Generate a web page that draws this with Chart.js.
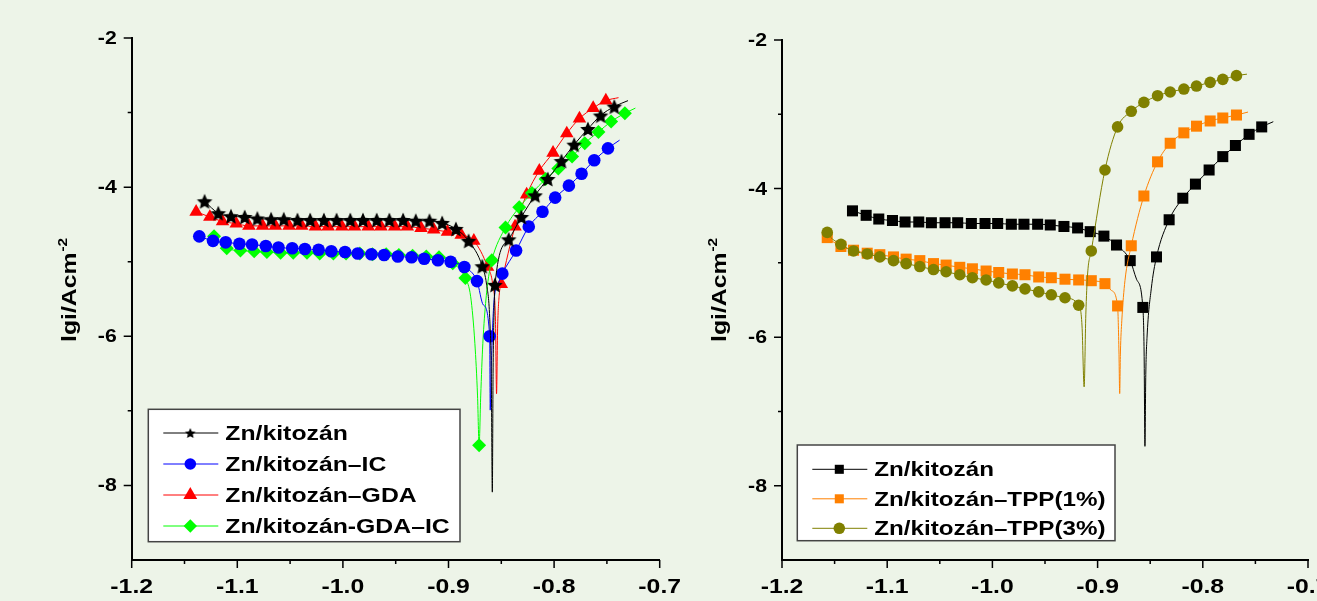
<!DOCTYPE html>
<html>
<head>
<meta charset="utf-8">
<title>Zn/kitozán polarizációs görbék</title>
<script src="https://cdn.jsdelivr.net/npm/chart.js@4.4.1/dist/chart.umd.min.js"></script>
<style>
  html, body { margin: 0; padding: 0; }
  body { width: 1317px; height: 601px; overflow: hidden; background: #edf4e8; position: relative; }
  canvas { position: absolute; top: 0; }
  #leftChart { left: 0; }
  #rightChart { left: 660px; }
</style>
</head>
<body>
<canvas id="leftChart" width="700" height="601"></canvas>
<canvas id="rightChart" width="700" height="601"></canvas>
<script>
// ---- axes ----
const xTickValues = [-1.2, -1.1, -1.0, -0.9, -0.8, -0.7];
const xTickLabels = ['-1.2', '-1.1', '-1.0', '-0.9', '-0.8', '-0.7'];
const xMinorValues = [-1.15, -1.05, -0.95, -0.85, -0.75];
const yTickValues = [-2, -4, -6, -8];
const yTickLabels = ['-2', '-4', '-6', '-8'];
const yMinorValues = [-3, -5, -7];
const yTitle = 'lgi/Acm';
const yTitleSup = '-2';

// ---- left chart: marked points (E / V, lg i) + unmarked trace points ----
const kitozanX = [-1.131,-1.118,-1.106,-1.093,-1.081,-1.068,-1.056,-1.043,-1.031,-1.018,-1.006,-0.993,-0.981,-0.968,-0.956,-0.943,-0.931,-0.918,-0.906,-0.893,-0.881,-0.868,-0.856,-0.843,-0.831,-0.818,-0.806,-0.793,-0.781,-0.768,-0.756,-0.743];
const kitozanY = [-4.19,-4.35,-4.39,-4.40,-4.42,-4.43,-4.43,-4.44,-4.44,-4.44,-4.44,-4.44,-4.44,-4.44,-4.44,-4.44,-4.45,-4.45,-4.48,-4.56,-4.72,-5.06,-5.31,-4.70,-4.40,-4.11,-3.89,-3.65,-3.43,-3.22,-3.04,-2.92];
const kitozanTrace = [[-0.864,-5.30],[-0.861,-5.75],[-0.8595,-6.5],[-0.8585,-8.09],[-0.8578,-6.5],[-0.857,-5.75],[-0.730,-2.84]];

const icX = [-1.136,-1.123,-1.111,-1.098,-1.086,-1.073,-1.061,-1.048,-1.036,-1.023,-1.011,-0.998,-0.986,-0.973,-0.961,-0.948,-0.935,-0.923,-0.910,-0.898,-0.885,-0.873,-0.861,-0.849,-0.836,-0.824,-0.811,-0.799,-0.786,-0.774,-0.762,-0.749];
const icY = [-4.66,-4.72,-4.74,-4.76,-4.77,-4.79,-4.81,-4.82,-4.83,-4.84,-4.86,-4.87,-4.89,-4.90,-4.91,-4.93,-4.94,-4.96,-4.98,-5.00,-5.07,-5.26,-6.00,-5.16,-4.85,-4.53,-4.33,-4.14,-3.98,-3.82,-3.64,-3.48];
const icTrace = [[-0.867,-5.58],[-0.8605,-6.99],[-0.8595,-6.4],[-0.857,-5.55],[-0.853,-5.30],[-0.738,-3.37]];

const gdaX = [-1.139,-1.126,-1.114,-1.101,-1.089,-1.076,-1.064,-1.051,-1.039,-1.026,-1.014,-1.001,-0.989,-0.976,-0.964,-0.951,-0.939,-0.926,-0.914,-0.901,-0.888,-0.876,-0.863,-0.850,-0.837,-0.826,-0.814,-0.801,-0.788,-0.776,-0.763,-0.751];
const gdaY = [-4.33,-4.40,-4.46,-4.49,-4.52,-4.52,-4.52,-4.52,-4.52,-4.53,-4.53,-4.53,-4.53,-4.53,-4.53,-4.53,-4.53,-4.55,-4.57,-4.60,-4.64,-4.72,-5.07,-5.30,-4.53,-4.10,-3.78,-3.54,-3.28,-3.08,-2.94,-2.84];
const gdaTrace = [[-0.858,-5.32],[-0.8555,-5.8],[-0.8545,-6.77],[-0.8535,-5.9],[-0.852,-5.45],[-0.739,-2.80]];

const gdaIcX = [-1.122,-1.110,-1.097,-1.084,-1.072,-1.059,-1.047,-1.034,-1.022,-1.009,-0.997,-0.984,-0.972,-0.959,-0.947,-0.934,-0.921,-0.909,-0.896,-0.884,-0.871,-0.859,-0.846,-0.833,-0.821,-0.808,-0.796,-0.783,-0.771,-0.758,-0.746,-0.733];
const gdaIcY = [-4.66,-4.82,-4.85,-4.86,-4.87,-4.88,-4.88,-4.88,-4.89,-4.89,-4.89,-4.89,-4.90,-4.90,-4.91,-4.92,-4.93,-4.94,-5.02,-5.22,-7.46,-4.98,-4.54,-4.27,-4.08,-3.89,-3.75,-3.59,-3.41,-3.26,-3.12,-3.01];
const gdaIcTrace = [[-0.879,-5.47],[-0.875,-6.1],[-0.8725,-6.8],[-0.8695,-6.8],[-0.8675,-6.1],[-0.8645,-5.5],[-0.862,-5.2],[-0.723,-2.94]];

// ---- right chart ----
const rKitozanX = [-1.133,-1.120,-1.108,-1.095,-1.083,-1.070,-1.058,-1.045,-1.033,-1.020,-1.007,-0.995,-0.982,-0.970,-0.957,-0.945,-0.932,-0.919,-0.907,-0.894,-0.882,-0.869,-0.857,-0.844,-0.832,-0.819,-0.807,-0.794,-0.781,-0.769,-0.756,-0.744];
const rKitozanY = [-4.30,-4.36,-4.41,-4.43,-4.45,-4.45,-4.46,-4.46,-4.46,-4.47,-4.47,-4.47,-4.48,-4.48,-4.48,-4.49,-4.51,-4.53,-4.58,-4.64,-4.76,-4.97,-5.60,-4.92,-4.42,-4.13,-3.94,-3.75,-3.57,-3.42,-3.27,-3.17];
const rKitozanTrace = [[-0.863,-5.22],[-0.8558,-6.2],[-0.855,-7.47],[-0.8542,-6.5],[-0.853,-6.0],[-0.849,-5.35],[-0.733,-3.10]];

const tppX = [-1.157,-1.144,-1.132,-1.119,-1.107,-1.094,-1.082,-1.069,-1.056,-1.044,-1.031,-1.019,-1.006,-0.994,-0.981,-0.969,-0.956,-0.944,-0.931,-0.918,-0.906,-0.893,-0.881,-0.868,-0.856,-0.843,-0.831,-0.818,-0.806,-0.793,-0.781,-0.768];
const tpp1Y = [-4.66,-4.78,-4.83,-4.87,-4.89,-4.92,-4.95,-4.97,-5.01,-5.03,-5.06,-5.08,-5.11,-5.13,-5.15,-5.16,-5.19,-5.20,-5.22,-5.23,-5.24,-5.28,-5.58,-4.77,-4.10,-3.64,-3.39,-3.25,-3.16,-3.09,-3.05,-3.01];
const tpp1Trace = [[-0.887,-5.37],[-0.8797,-6.2],[-0.879,-6.76],[-0.8783,-6.2],[-0.877,-5.78],[-0.874,-5.24],[-0.757,-2.97]];
const tpp3Y = [-4.59,-4.75,-4.84,-4.88,-4.92,-4.97,-5.01,-5.05,-5.09,-5.12,-5.16,-5.20,-5.23,-5.27,-5.31,-5.35,-5.39,-5.43,-5.47,-5.57,-4.84,-3.75,-3.17,-2.96,-2.84,-2.75,-2.70,-2.66,-2.62,-2.57,-2.53,-2.48];
const tpp3Trace = [[-1.158,-4.55],[-0.9148,-5.85],[-0.9128,-6.67],[-0.9112,-5.7],[-0.9095,-5.15],[-0.758,-2.46]];

const FONT = '"Liberation Sans", Arial, sans-serif';
const SX = 1.18; // the original's lettering is wider than Arial

// draw text stretched along its own direction
function wideText(ctx, txt, x, y, align) {
    const w = ctx.measureText(txt).width * SX;
    let x0 = x;
    if (align === 'center') x0 = x - w / 2;
    else if (align === 'right') x0 = x - w;
    ctx.save();
    ctx.translate(x0, y);
    ctx.scale(SX, 1);
    ctx.textAlign = 'left';
    ctx.textBaseline = 'alphabetic';
    ctx.fillText(txt, 0, 0);
    ctx.restore();
    return w;
}

// filled five-point star used as a marker
function starImage(size, R, color) {
    const c = document.createElement('canvas');
    c.width = c.height = size;
    const g = c.getContext('2d');
    const cx = size / 2, cy = size / 2 + R * 0.1, r = R * 0.47;
    g.beginPath();
    for (let k = 0; k < 10; k++) {
        const ang = -Math.PI / 2 + k * Math.PI / 5;
        const rad = k % 2 ? r : R;
        g.lineTo(cx + rad * Math.cos(ang), cy + rad * Math.sin(ang));
    }
    g.closePath();
    g.fillStyle = color;
    g.fill();
    return c;
}

function buildPoints(xs, ys, trace) {
    const pts = xs.map((x, i) => ({ x: x, y: ys[i], m: 1 }));
    trace.forEach(p => pts.push({ x: p[0], y: p[1], m: 0 }));
    return pts.sort((a, b) => a.x - b.x);
}

function series(label, color, xs, ys, trace, style, radius, order) {
    return {
        label: label,
        order: order,
        data: buildPoints(xs, ys, trace),
        borderColor: color,
        backgroundColor: color,
        borderWidth: 1,
        pointStyle: style,
        pointRadius: c => (c.raw && c.raw.m ? radius : 0),
        pointHoverRadius: 0,
        pointBorderWidth: 0,
        cubicInterpolationMode: 'monotone'
    };
}

// ticks, tick labels and the rotated axis title
const axisDeco = {
    id: 'axisDeco',
    afterDraw(chart) {
        const ctx = chart.ctx;
        const xs = chart.scales.x, ys = chart.scales.y, a = chart.chartArea;
        ctx.save();
        ctx.strokeStyle = '#000';
        ctx.lineWidth = 1.5;
        ctx.beginPath();
        xTickValues.forEach(v => { const p = xs.getPixelForValue(v); ctx.moveTo(p, a.bottom); ctx.lineTo(p, a.bottom + 8); });
        xMinorValues.forEach(v => { const p = xs.getPixelForValue(v); ctx.moveTo(p, a.bottom); ctx.lineTo(p, a.bottom + 4); });
        yTickValues.forEach(v => { const p = ys.getPixelForValue(v); ctx.moveTo(a.left - 8, p); ctx.lineTo(a.left, p); });
        yMinorValues.forEach(v => { const p = ys.getPixelForValue(v); ctx.moveTo(a.left - 4, p); ctx.lineTo(a.left, p); });
        ctx.stroke();

        ctx.fillStyle = '#000';
        ctx.font = 'bold 21px ' + FONT;
        xTickValues.forEach((v, i) => wideText(ctx, xTickLabels[i], xs.getPixelForValue(v), a.bottom + 33, 'center'));
        ctx.font = 'bold 18px ' + FONT;
        yTickValues.forEach((v, i) => wideText(ctx, yTickLabels[i], a.left - 15, ys.getPixelForValue(v) + 6, 'right'));

        ctx.translate(a.left - 56, 342);
        ctx.rotate(-Math.PI / 2);
        ctx.font = 'bold 21px ' + FONT;
        const w = wideText(ctx, yTitle, 0, 0, 'left');
        ctx.font = 'bold 13px ' + FONT;
        wideText(ctx, yTitleSup, w + 1, -9, 'left');
        ctx.restore();
    }
};

// boxed legend inside the plot
const legendBox = {
    id: 'legendBox',
    afterDatasetsDraw(chart, args, o) {
        const ctx = chart.ctx;
        ctx.save();
        ctx.fillStyle = '#fff';
        ctx.fillRect(o.x, o.y, o.w, o.h);
        ctx.strokeStyle = '#444';
        ctx.lineWidth = 1.5;
        ctx.strokeRect(o.x, o.y, o.w, o.h);
        ctx.font = 'bold ' + o.font + 'px ' + FONT;
        chart.data.datasets.forEach((ds, i) => {
            const cy = o.y + o.first + i * o.step;
            ctx.strokeStyle = ds.borderColor;
            ctx.lineWidth = 1;
            ctx.beginPath();
            ctx.moveTo(o.x + 15, cy);
            ctx.lineTo(o.x + 70, cy);
            ctx.stroke();
            ctx.fillStyle = ds.backgroundColor;
            Chart.helpers.drawPoint(ctx, { pointStyle: o.markers[i][0], radius: o.markers[i][1], rotation: 0, borderWidth: 0 }, o.x + 42, cy);
            ctx.fillStyle = '#000';
            wideText(ctx, ds.label, o.x + 77, cy + 7, 'left');
        });
        ctx.restore();
    }
};

function makeOptions(box, yWidth, padRight, padTop) {
    return {
        responsive: false,
        animation: false,
        events: [],
        layout: { padding: { left: 0, top: padTop, right: padRight, bottom: 0 } },
        scales: {
            x: {
                type: 'linear', min: -1.2, max: -0.7,
                grid: { display: false },
                ticks: { display: false },
                border: { display: true, color: '#000', width: 2 },
                afterFit: s => { s.height = 41; }
            },
            y: {
                type: 'linear', min: -9, max: -2,
                grid: { display: false },
                ticks: { display: false },
                border: { display: true, color: '#000', width: 2 },
                afterFit: s => { s.width = yWidth; }
            }
        },
        plugins: {
            legend: { display: false },
            tooltip: { enabled: false },
            legendBox: box
        }
    };
}

const starBig = starImage(20, 8.2, '#000');
const starSmall = starImage(14, 5.6, '#000');

new Chart(document.getElementById('leftChart'), {
    type: 'line',
    data: {
        datasets: [
            series('Zn/kitozán', '#000000', kitozanX, kitozanY, kitozanTrace, starBig, 7, 0),
            series('Zn/kitozán–IC', '#0000ff', icX, icY, icTrace, 'circle', 6.3, 1),
            series('Zn/kitozán–GDA', '#ff0000', gdaX, gdaY, gdaTrace, 'triangle', 7.8, 3),
            series('Zn/kitozán-GDA–IC', '#00ff00', gdaIcX, gdaIcY, gdaIcTrace, 'rectRot', 7, 2)
        ]
    },
    options: makeOptions({
        x: 148.3, y: 409.3, w: 311.7, h: 132.4, first: 23.7, step: 31, font: 21,
        markers: [[starSmall, 5], ['circle', 5.8], ['triangle', 8], ['rectRot', 6.7]]
    }, 131.7, 40.3, 38),
    plugins: [axisDeco, legendBox]
});

new Chart(document.getElementById('rightChart'), {
    type: 'line',
    data: {
        datasets: [
            series('Zn/kitozán', '#000000', rKitozanX, rKitozanY, rKitozanTrace, 'rect', 7.8, 2),
            series('Zn/kitozán–TPP(1%)', '#ff8000', tppX, tpp1Y, tpp1Trace, 'rect', 7.8, 1),
            series('Zn/kitozán–TPP(3%)', '#808000', tppX, tpp3Y, tpp3Trace, 'circle', 5.8, 0)
        ]
    },
    options: makeOptions({
        x: 137.3, y: 445, w: 317.7, h: 95.7, first: 24.3, step: 29.5, font: 20.5,
        markers: [['rect', 6.4], ['rect', 6.4], ['circle', 5.8]]
    }, 122, 52, 40),
    plugins: [axisDeco, legendBox]
});
</script>
</body>
</html>
